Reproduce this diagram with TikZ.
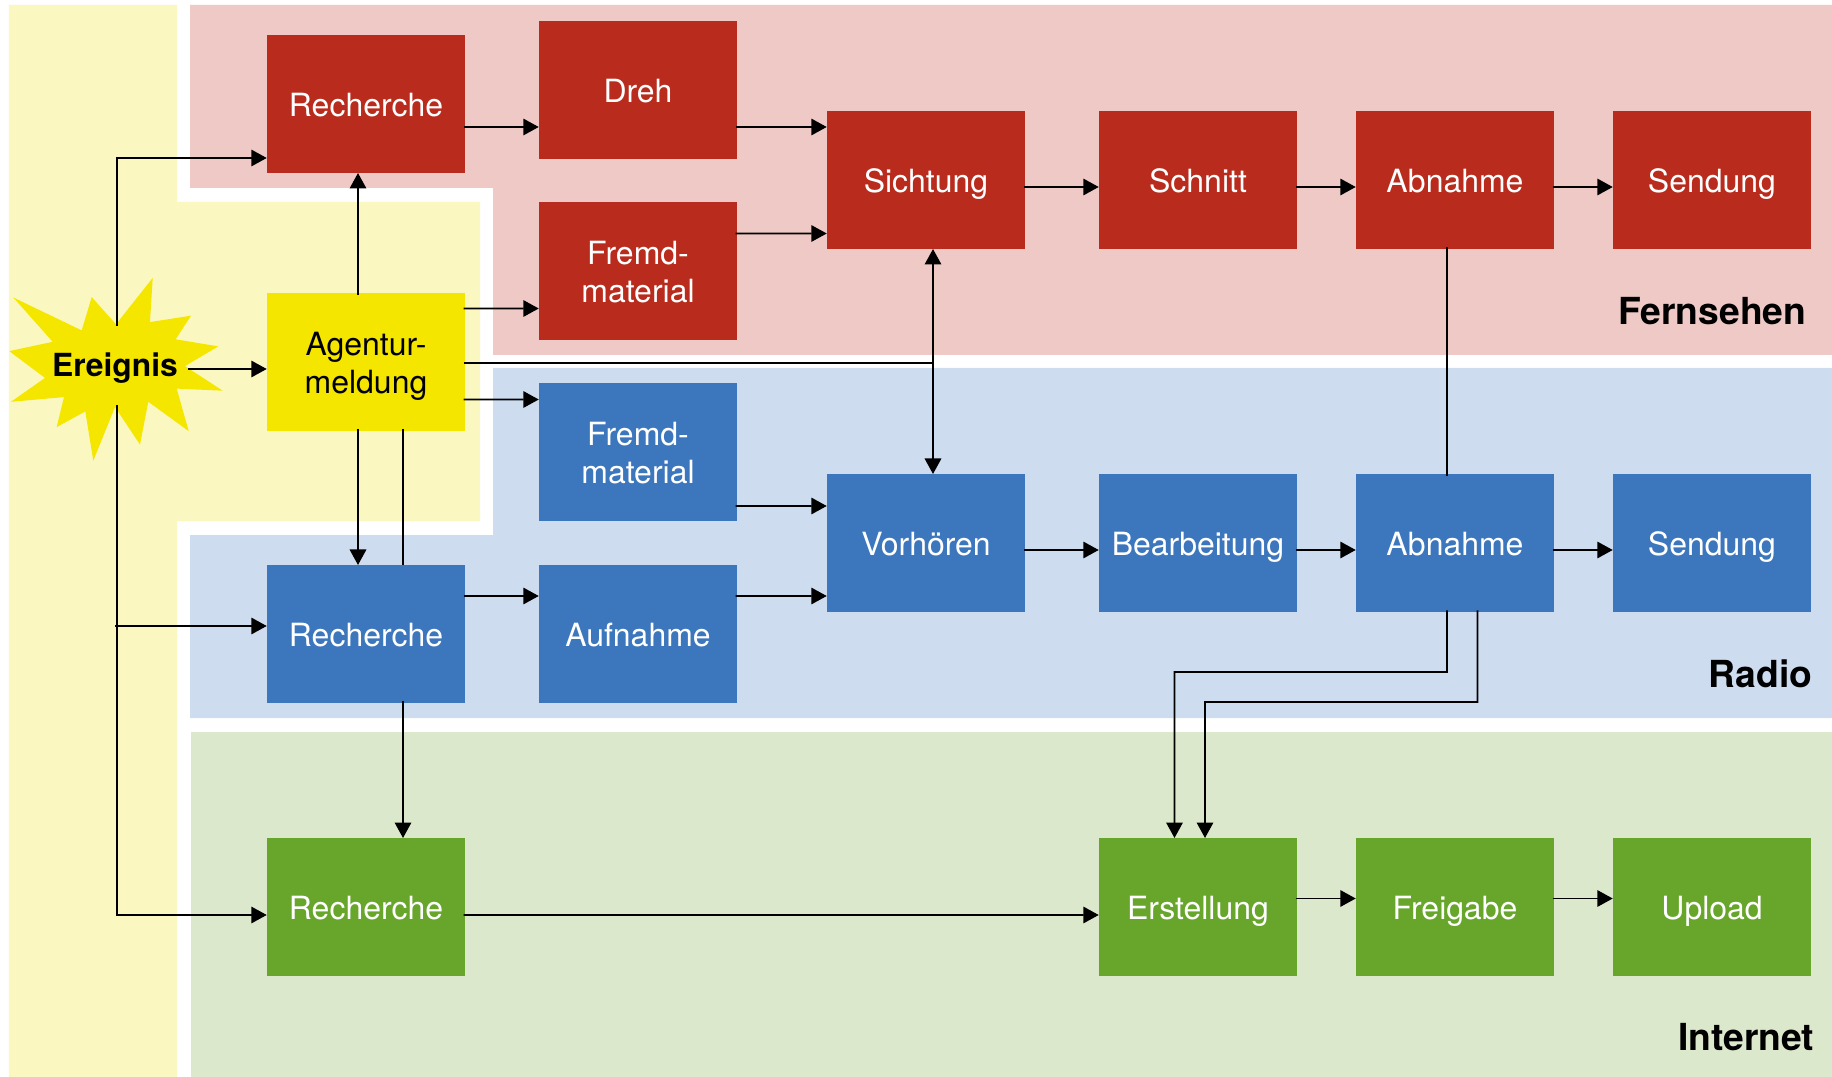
\documentclass[tikz,border=0pt]{standalone}
\usepackage{fontspec}
\setmainfont{TeX Gyre Heros}
\usetikzlibrary{arrows.meta}
\definecolor{tvdark}{HTML}{B92B1C}
\definecolor{tvlight}{HTML}{EEC9C5}
\definecolor{radiodark}{HTML}{3C76BC}
\definecolor{radiolight}{HTML}{CEDCF0}
\definecolor{webdark}{HTML}{67A62B}
\definecolor{weblight}{HTML}{DCE8CB}
\definecolor{newsdark}{HTML}{F5E600}
\definecolor{newslight}{HTML}{FBF7C0}
\newcommand{\firstline}{\rule{0pt}{.35cm}}
\tikzstyle{box} = [rectangle, minimum width=1.985cm, minimum height=1.38cm, inner sep=0pt, outer sep=0pt, align=center, text=white, font=\fontsize{9.1}{10.95}\selectfont, execute at begin node={\rule{0pt}{.35cm}}, execute at end node={\rule[-.1cm]{0pt}{.1cm}}]
\tikzstyle{tvbox} = [box, fill=tvdark]
\tikzstyle{radiobox} = [box, fill=radiodark]
\tikzstyle{webbox} = [box, fill=webdark]
\tikzstyle{newsbox} = [box, fill=newsdark, text=black]
\tikzstyle{bandlabel} = [anchor=east, inner sep=0pt, font=\fontsize{10.6}{12}\selectfont\bfseries]
\tikzstyle{line} = [line width=.018cm, shorten <=-.017cm]
\tikzstyle{arrow} = [line, -{Triangle[length=.155cm,width=.165cm]}]
\tikzstyle{dblarrow} = [line width=.018cm, {Triangle[length=.155cm,width=.165cm]}-{Triangle[length=.155cm,width=.165cm]}]
\begin{document}
\begin{tikzpicture}[node distance=2.57cm]
    \useasboundingbox (0,0) rectangle (18.32,-10.77);
    % bands
    \fill [newslight] (.09,-.05) -- (1.77,-.05) -- (1.77,-2.02) -- (4.80,-2.02) -- (4.80,-5.21) -- (1.77,-5.21) -- (1.77,-10.77) -- (.09,-10.77) -- cycle;
    \fill [tvlight] (1.90,-.05) -- (18.32,-.05) -- (18.32,-3.55) -- (4.93,-3.55) -- (4.93,-1.88) -- (1.90,-1.88) -- cycle;
    \fill [radiolight] (4.93,-3.68) -- (18.32,-3.68) -- (18.32,-7.18) -- (1.90,-7.18) -- (1.90,-5.35) -- (4.93,-5.35) -- cycle;
    \fill [weblight] (1.91,-7.32) rectangle (18.32,-10.77);
    % star
    \fill [newsdark] (.133,-2.975) -- (.817,-3.304) -- (.917,-2.971) -- (1.16,-3.243) -- (1.527,-2.779) -- (1.5,-3.221) -- (1.91,-3.157) -- (1.757,-3.393) -- (2.183,-3.464) -- (1.85,-3.661) -- (2.227,-3.907) -- (1.767,-3.886) -- (1.887,-4.311) -- (1.483,-4.018) -- (1.4,-4.446) -- (1.15,-4.071) -- (.933,-4.607) -- (.853,-4.114) -- (.567,-4.271) -- (.64,-3.971) -- (.11,-4.018) -- (.45,-3.779) -- (.093,-3.511) -- (.527,-3.418) -- cycle;
    \node (event) [inner sep=0pt, font=\fontsize{9.05}{10.95}\selectfont\bfseries] at (1.15,-3.68) {Ereignis};
    \coordinate (eventtop) at (1.17,-3.24);
    \coordinate (eventbot) at (1.17,-4.07);
    \coordinate (eventright) at (1.90,-3.69);
    % nodes
    \node (agentur) [newsbox] at (3.66,-3.62) {\firstline Agentur-\\meldung};
    \node (recTV) [tvbox, above of=agentur, yshift=.01cm] {Recherche};
    \node (recRadio) [radiobox, below of=agentur, yshift=-.15cm] {Recherche};
    \node (recWeb) [webbox, below of=recRadio, yshift=-.16cm] {Recherche};
    \node (dreh) [tvbox, right of=recTV, xshift=.15cm, yshift=.14cm] {Dreh};
    \node (fremdTV) [tvbox, right of=agentur, xshift=.15cm, yshift=.91cm] {\firstline Fremd-\\material};
    \node (fremdRadio) [radiobox, right of=agentur, xshift=.15cm, yshift=-.90cm] {\firstline Fremd-\\material};
    \node (aufnahme) [radiobox, right of=recRadio, xshift=.15cm] {Aufnahme};
    \node (sichtung) [tvbox, right of=dreh, xshift=.31cm, yshift=-.90cm] {Sichtung};
    \node (schnitt) [tvbox, right of=sichtung, xshift=.15cm] {Schnitt};
    \node (abnTV) [tvbox, right of=schnitt] {Abnahme};
    \node (sendTV) [tvbox, right of=abnTV] {Sendung};
    \node (vorh) [radiobox, below of=sichtung, yshift=-1.06cm] {Vorhören};
    \node (bearb) [radiobox, right of=vorh, xshift=.15cm] {Bearbeitung};
    \node (abnRadio) [radiobox, right of=bearb] {Abnahme};
    \node (sendRadio) [radiobox, right of=abnRadio] {Sendung};
    \node (erst) [webbox, below of=bearb, yshift=-1.07cm] {Erstellung};
    \node (freigabe) [webbox, right of=erst] {Freigabe};
    \node (upload) [webbox, right of=freigabe] {Upload};
    \node (labelTV) [bandlabel] at (18.07,-3.11) {Fernsehen};
    \node (labelRadio) [bandlabel] at (18.13,-6.74) {Radio};
    \node (labelWeb) [bandlabel] at (18.15,-10.37) {Internet};
    % event
    \draw [arrow] (eventright) -- (eventright -| agentur.west);
    \draw [arrow] (eventtop) |- ([yshift=-.54cm]recTV.west);
    \draw [arrow] (eventbot) |- ([yshift=-.08cm]recWeb.west);
    \draw [arrow] (eventbot |- recRadio.west) ++(0,.08) -- ([yshift=.08cm]recRadio.west);
    % agency
    \draw [arrow] ([xshift=-.08cm]agentur.north) -- ([xshift=-.08cm]recTV.south);
    \draw [arrow] ([xshift=-.08cm]agentur.south) -- ([xshift=-.08cm]recRadio.north);
    \draw [line] ([xshift=.37cm]agentur.south) -- ([xshift=.37cm]recRadio.north);
    \draw [arrow] ([xshift=.37cm]recRadio.south) -- ([xshift=.37cm]recWeb.north);
    \draw [arrow] ([yshift=.535cm]agentur.east) -- ([yshift=-.375cm]fremdTV.west);
    \draw [arrow] ([yshift=-.375cm]agentur.east) -- ([yshift=.525cm]fremdRadio.west);
    \draw [line] ([yshift=-.01cm]agentur.east) -- ([xshift=.07cm,yshift=-.01cm]agentur.east -| sichtung.south);
    % television
    \draw [arrow] ([yshift=-.23cm]recTV.east) -- ([yshift=-.37cm]dreh.west);
    \draw [arrow] ([yshift=-.37cm]dreh.east) -- ([yshift=.53cm]sichtung.west);
    \draw [arrow] ([yshift=.375cm]fremdTV.east) -- ([yshift=-.535cm]sichtung.west);
    \draw [arrow] ([yshift=-.07cm]sichtung.east) -- ([yshift=-.07cm]schnitt.west);
    \draw [arrow] ([yshift=-.07cm]schnitt.east) -- ([yshift=-.07cm]abnTV.west);
    \draw [arrow] ([yshift=-.07cm]abnTV.east) -- ([yshift=-.07cm]sendTV.west);
    \draw [dblarrow] ([xshift=.07cm]sichtung.south) -- ([xshift=.07cm]vorh.north);
    \draw [line, shorten >=-.017cm] ([xshift=-.08cm]abnTV.south) -- ([xshift=-.08cm]abnRadio.north);
    % radio
    \draw [arrow] ([yshift=.38cm]recRadio.east) -- ([yshift=.38cm]aufnahme.west);
    \draw [arrow] ([yshift=-.54cm]fremdRadio.east) -- ([yshift=.37cm]vorh.west);
    \draw [arrow] ([yshift=.38cm]aufnahme.east) -- ([yshift=-.53cm]vorh.west);
    \draw [arrow] ([yshift=-.07cm]vorh.east) -- ([yshift=-.07cm]bearb.west);
    \draw [arrow] ([yshift=-.07cm]bearb.east) -- ([yshift=-.07cm]abnRadio.west);
    \draw [arrow] ([yshift=-.07cm]abnRadio.east) -- ([yshift=-.07cm]sendRadio.west);
    \draw [arrow] ([xshift=-.08cm]abnRadio.south) |- ++(-2.725,-.6) -- ([xshift=-.235cm]erst.north);
    \draw [arrow] ([xshift=.225cm]abnRadio.south) |- ++(-2.725,-.9) -- ([xshift=.07cm]erst.north);
    % internet
    \draw [arrow] ([yshift=-.08cm]recWeb.east) -- ([yshift=-.08cm]erst.west);
    \draw [arrow] ([yshift=.085cm]erst.east) -- ([yshift=.085cm]freigabe.west);
    \draw [arrow] ([yshift=.085cm]freigabe.east) -- ([yshift=.085cm]upload.west);
\end{tikzpicture}
\end{document}
